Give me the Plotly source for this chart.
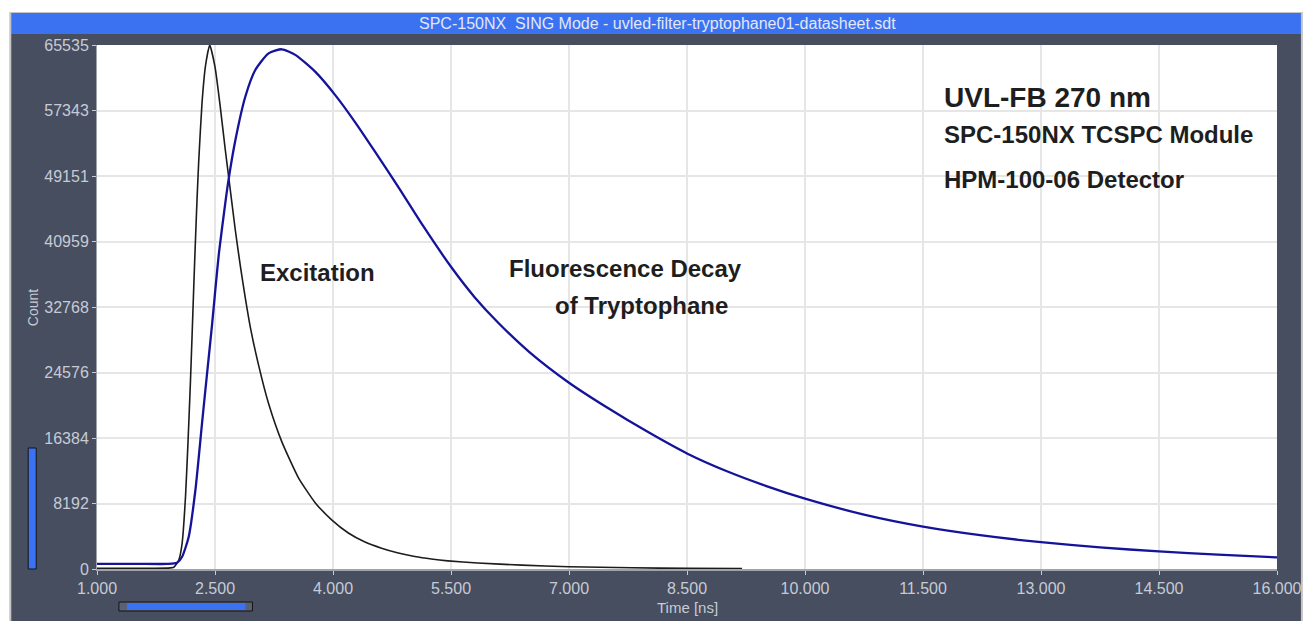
import plotly.graph_objects as go

# ---------------- data ----------------
exc_t = [1.0, 1.5, 1.9, 1.976, 2.04, 2.082, 2.125, 2.158, 2.188, 2.209, 2.23, 2.251,
         2.272, 2.293, 2.335, 2.38, 2.433, 2.5, 2.567, 2.631, 2.674, 2.758, 2.822,
         2.885, 2.95, 3.054, 3.181, 3.35, 3.561, 3.773, 3.983, 4.195, 4.4, 4.617,
         4.83, 5.04, 5.25, 5.46, 5.84, 6.4, 7.0, 7.8, 8.5, 9.2]
exc_counts = [100, 100, 110, 212, 1126, 3214, 9040, 16134, 23500, 29300, 35300, 41000,
              46300, 51000, 58300, 63000, 65535, 62800, 57800, 52400, 49000, 42400, 37900,
              33900, 30200, 25500, 20700, 15900, 11400, 8300, 6150, 4500, 3400, 2600,
              2000, 1560, 1250, 1020, 750, 480, 290, 150, 80, 50]

flu_t = [1.0, 1.5, 1.9, 2.018, 2.082, 2.166, 2.251, 2.335, 2.399, 2.462, 2.505, 2.55,
         2.631, 2.674, 2.758, 2.885, 3.012, 3.181, 3.35, 3.52, 3.773, 4.026, 4.28, 4.534,
         4.829, 5.146, 5.5, 5.8, 6.1, 6.5, 7.0, 7.5, 8.0, 8.5, 9.0, 9.5, 10.0, 10.75, 11.5,
         12.25, 13.0, 13.75, 14.5, 15.25, 16.0]
flu_counts = [650, 650, 640, 790, 1538, 4045, 9880, 18218, 24447, 30500, 35000, 39500,
              45800, 48800, 53600, 59066, 62406, 64490, 65000, 64300, 62200, 59300, 55900,
              52200, 47800, 42900, 37800, 34000, 30800, 27100, 23300, 20100, 17150, 14450,
              12250, 10400, 8800, 6800, 5300, 4200, 3350, 2700, 2200, 1800, 1450]

y_ticks = [0, 8192, 16384, 24576, 32768, 40959, 49151, 57343, 65535]
y_tick_text = ["0", "8192", "16384", "24576", "32768", "40959", "49151", "57343", "65535"]
x_ticks = [1.0, 2.5, 4.0, 5.5, 7.0, 8.5, 10.0, 11.5, 13.0, 14.5, 16.0]
x_tick_text = ["1.000", "2.500", "4.000", "5.500", "7.000", "8.500", "10.000",
               "11.500", "13.000", "14.500", "16.000"]

# ---------------- layout geometry (pixels) ----------------
W, H = 1314, 621
L, R, T, B = 97, 1281, 45, 569


def px(x):
    return (x - L) / (R - L)


def py(y):
    return (B - y) / (B - T)


FONT = "Liberation Sans, Arial, sans-serif"
DARK = "#464e60"
BLUE_BAR = "#3b72f2"
LABEL = "#c6cbd5"

fig = go.Figure()
fig.add_trace(go.Scatter(x=exc_t, y=exc_counts, mode="lines",
                         line=dict(color="#1c1c1c", width=1.6, shape="spline", smoothing=0.5),
                         name="Excitation", showlegend=False, hoverinfo="skip"))
fig.add_trace(go.Scatter(x=flu_t, y=flu_counts, mode="lines",
                         line=dict(color="#14139a", width=2.3, shape="spline", smoothing=0.6),
                         name="Fluorescence", showlegend=False, hoverinfo="skip"))

shapes = [
    dict(type="rect", xref="paper", yref="paper", x0=px(9), x1=px(1307), y0=py(12), y1=py(622),
         fillcolor="#c4c4c4", line=dict(width=0), layer="below"),
    dict(type="rect", xref="paper", yref="paper", x0=px(11), x1=px(1305), y0=py(34), y1=py(622),
         fillcolor=DARK, line=dict(width=0), layer="below"),
    dict(type="rect", xref="paper", yref="paper", x0=px(11), x1=px(1305), y0=py(13), y1=py(34),
         fillcolor=BLUE_BAR, line=dict(width=0), layer="below"),
    dict(type="rect", xref="paper", yref="paper", x0=0, x1=1, y0=0, y1=1,
         fillcolor="white", line=dict(width=0), layer="below"),
    dict(type="rect", xref="paper", yref="paper", x0=px(28), x1=px(36), y0=py(448), y1=py(569),
         fillcolor=BLUE_BAR, line=dict(color="#151515", width=1)),
    dict(type="rect", xref="paper", yref="paper", x0=px(119), x1=px(253), y0=py(602), y1=py(611),
         fillcolor="#5a6172", line=dict(color="#151515", width=1)),
    dict(type="rect", xref="paper", yref="paper", x0=px(127), x1=px(246), y0=py(603), y1=py(610),
         fillcolor=BLUE_BAR, line=dict(width=0)),
]

ann_common = dict(xref="paper", yref="paper", showarrow=False, xanchor="left", yanchor="middle")
TXT = "#1e1e1e"
annotations = [
    dict(text="SPC-150NX  SING Mode - uvled-filter-tryptophane01-datasheet.sdt",
         x=px(659), y=py(23), xref="paper", yref="paper", showarrow=False,
         xanchor="center", yanchor="middle", font=dict(family=FONT, size=16, color="#e3e8f4")),
    dict(text="<b>UVL-FB 270 nm</b>", x=px(945), y=py(97),
         font=dict(family=FONT, size=28, color=TXT), **ann_common),
    dict(text="<b>SPC-150NX TCSPC Module</b>", x=px(945), y=py(134),
         font=dict(family=FONT, size=24, color=TXT), **ann_common),
    dict(text="<b>HPM-100-06 Detector</b>", x=px(945), y=py(179),
         font=dict(family=FONT, size=24, color=TXT), **ann_common),
    dict(text="<b>Excitation</b>", x=px(259), y=py(272),
         font=dict(family=FONT, size=24, color=TXT), **ann_common),
    dict(text="<b>Fluorescence Decay</b>", x=px(508), y=py(268),
         font=dict(family=FONT, size=24, color=TXT), **ann_common),
    dict(text="<b>of Tryptophane</b>", x=px(555), y=py(305),
         font=dict(family=FONT, size=24, color=TXT), **ann_common),
    dict(text="Count", x=px(33), y=py(308), xref="paper", yref="paper", showarrow=False,
         xanchor="center", yanchor="middle", textangle=-90,
         font=dict(family=FONT, size=14, color=LABEL)),
    dict(text="Time [ns]", x=px(690), y=py(607), xref="paper", yref="paper", showarrow=False,
         xanchor="center", yanchor="middle",
         font=dict(family=FONT, size=15, color=LABEL)),
]

fig.update_layout(
    width=W, height=H,
    margin=dict(l=L, r=W - R, t=T, b=H - B, pad=0),
    paper_bgcolor="white",
    plot_bgcolor="rgba(0,0,0,0)",
    shapes=shapes,
    annotations=annotations,
    showlegend=False,
    xaxis=dict(range=[1.0, 16.0], tickvals=x_ticks, ticktext=x_tick_text,
               showgrid=True, gridcolor="#e6e6e6", gridwidth=1.5,
               showline=True, linecolor="#9ea3ad", linewidth=1.5,
               ticks="outside", ticklen=4, tickcolor="#c6cbd5",
               tickfont=dict(family=FONT, size=16, color=LABEL), zeroline=False),
    yaxis=dict(range=[0, 65535], tickvals=y_ticks, ticktext=y_tick_text,
               showgrid=True, gridcolor="#e6e6e6", gridwidth=1.5,
               showline=True, linecolor="#9ea3ad", linewidth=1,
               ticks="outside", ticklen=4, tickcolor="#c6cbd5",
               tickfont=dict(family=FONT, size=16, color=LABEL), zeroline=False),
)

fig.write_html(
    "out.html",
    config={"displayModeBar": False},
    post_script="document.body.style.margin='0';document.body.style.padding='0';"
                "document.documentElement.style.overflow='hidden';",
)
